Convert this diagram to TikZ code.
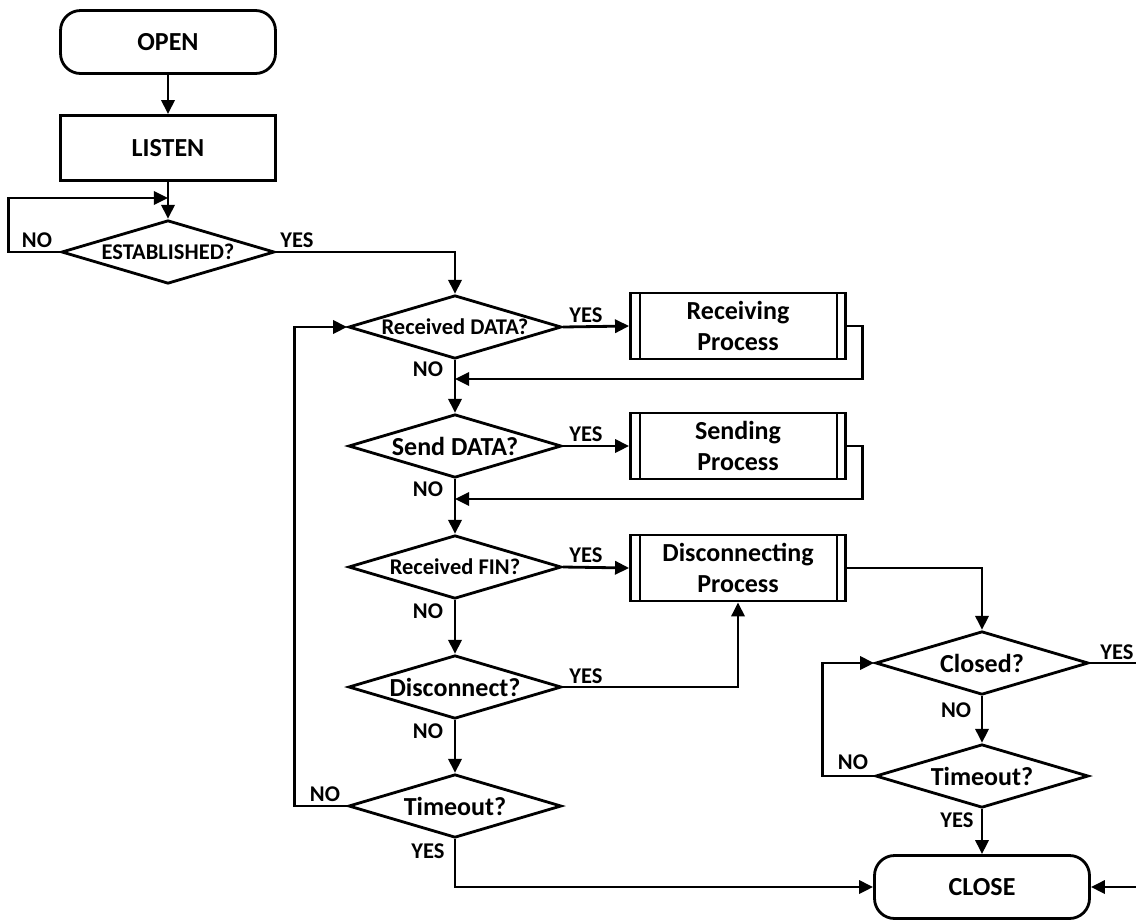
\documentclass[tikz,border=0pt]{standalone}
\usepackage{fontspec}
\setmainfont{Carlito}
\usetikzlibrary{shapes.geometric,arrows.meta}
\begin{document}
\begin{tikzpicture}[x=0.02cm,y=-0.02cm,
  bigfont/.style={font=\bfseries\fontsize{14.8}{17.5}\selectfont},
  smallfont/.style={font=\bfseries\fontsize{12.8}{14}\selectfont},
  base/.style={draw,line width=1.6pt,inner sep=0pt},
  term/.style={base,bigfont,rounded corners=0.4cm,minimum width=4.3cm,minimum height=1.26cm},
  rectbox/.style={base,bigfont,minimum width=4.3cm,minimum height=1.3cm},
  proc/.style={base,bigfont,align=center,minimum width=4.3cm,minimum height=1.32cm,
    path picture={\draw[line width=1.3pt]
      ([xshift=0.19cm]path picture bounding box.north west) -- ([xshift=0.19cm]path picture bounding box.south west)
      ([xshift=-0.17cm]path picture bounding box.north east) -- ([xshift=-0.17cm]path picture bounding box.south east);}},
  dec/.style={base,diamond,aspect=3.35,minimum width=4.26cm,minimum height=1.27cm},
  lab/.style={smallfont,inner sep=0pt},
  ln/.style={line width=1.6pt},
  arr/.style={line width=1.6pt,-{Triangle[length=8pt,width=7.5pt]}}
]
\useasboundingbox (0,0) rectangle (1136,920);

% nodes
\node[term] (open) at (168,42) {OPEN};
\node[rectbox] (listen) at (168,148) {LISTEN};
\node[dec,smallfont] (est) at (168,252) {\makebox[0pt]{ESTABLISHED?}};

\node[dec,smallfont] (rd) at (455,327) {\makebox[0pt]{Received DATA?}};
\node[proc] (rp) at (738,326) {Receiving\\Process};
\node[dec,bigfont] (sd) at (455,446) {\makebox[0pt]{Send DATA?}};
\node[proc] (sp) at (738,446) {Sending\\Process};
\node[dec,smallfont] (rf) at (455,567) {\makebox[0pt]{Received FIN?}};
\node[proc] (dp) at (738,568) {Disconnecting\\Process};
\node[dec,bigfont] (dc) at (455,687) {\makebox[0pt]{Disconnect?}};
\node[dec,bigfont] (to) at (455,806) {\makebox[0pt]{Timeout?}};

\node[dec,bigfont] (cl) at (982,663) {\makebox[0pt]{Closed?}};
\node[dec,bigfont] (t2) at (982,776) {\makebox[0pt]{Timeout?}};
\node[term] (close) at (982,887) {CLOSE};

% junctions
\coordinate (j1) at (168,198);
\coordinate (j2) at (455,379);
\coordinate (j3) at (455,499);

% connectors
\draw[arr] (open) -- (listen);
\draw[arr] (listen) -- (est);
\draw[arr] (est.west) -- ++(-52,0) |- (j1);
\draw[arr] (est.east) -| (rd.north);

\draw[arr] (rd.east) -- (rp.west);
\draw[arr] (rd.south) -- (sd.north);
\draw[arr] (rp.east) -- ++(16,0) |- (j2);

\draw[arr] (sd.east) -- (sp.west);
\draw[arr] (sd.south) -- (rf.north);
\draw[arr] (sp.east) -- ++(16,0) |- (j3);

\draw[arr] (rf.east) -- (dp.west);
\draw[arr] (rf.south) -- (dc.north);
\draw[arr] (dp.east) -| (cl.north);

\draw[arr] (dc.east) -| (dp.south);
\draw[arr] (dc.south) -- (to.north);

\draw[arr] (to.west) -- ++(-53,0) |- (rd.west);
\draw[arr] (to.south) |- (close.west);

\draw[arr] (cl.south) -- (t2.north);
\draw[arr] (t2.west) -- ++(-52,0) |- (cl.west);
\draw[arr] (t2.south) -- (close.north);
\draw[arr] (cl.east) -- ++(50,0) |- (close.east);

% labels
\node[lab] (l1) at (37,240) {NO};
\node[lab] (l2) at (297,240) {YES};
\node[lab] (l3) at (586,315) {YES};
\node[lab] (l4) at (428,369) {NO};
\node[lab] (l5) at (586,434) {YES};
\node[lab] (l6) at (428,489) {NO};
\node[lab] (l7) at (586,555) {YES};
\node[lab] (l8) at (428,611) {NO};
\node[lab] (l9) at (586,676) {YES};
\node[lab] (l10) at (428,731) {NO};
\node[lab] (l11) at (325,794) {NO};
\node[lab] (l12) at (428,851) {YES};
\node[lab] (l13) at (1117,652) {YES};
\node[lab] (l14) at (956,710) {NO};
\node[lab] (l15) at (853,762) {NO};
\node[lab] (l16) at (957,820) {YES};
\end{tikzpicture}
\end{document}
